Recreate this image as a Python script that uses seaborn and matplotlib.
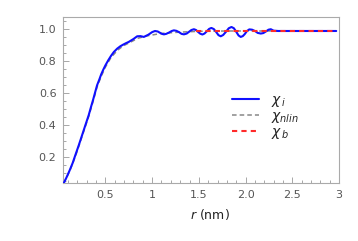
#Importing necessary libraries:
import numpy as np
import pandas as pd
import seaborn as sns
import matplotlib
matplotlib.use("Agg")
import matplotlib.pyplot as plt
from matplotlib.ticker import MultipleLocator

# Values
r_i = [0.053, 0.09, 0.12, 0.15, 0.178, 0.215, 0.25, 0.285, 0.321, 0.345, 0.37, 0.39,
       0.411, 0.435, 0.455, 0.478, 0.5, 0.53, 0.56, 0.59, 0.626, 0.66, 0.69, 0.72,
       0.75, 0.80, 0.84, 0.875, 0.911, 0.96, 1.0, 1.03, 1.06, 1.08, 1.105, 1.126, 1.15,
       1.18, 1.21, 1.233, 1.26, 1.29, 1.315, 1.34, 1.37, 1.395, 1.42, 1.447, 1.47, 1.49,
       1.515, 1.538, 1.56, 1.585, 1.61, 1.634, 1.66, 1.685, 1.71, 1.734, 1.76, 1.79,
       1.82, 1.849, 1.875, 1.90, 1.925, 1.948, 1.97, 1.99, 2.015, 2.04, 2.07, 2.10,
       2.13, 2.163, 2.19, 2.22, 2.245, 2.27, 2.30, 2.35, 2.97]
chi_i = [0.035, 0.08, 0.12, 0.163, 0.211, 0.273, 0.335, 0.397, 0.46, 0.51, 0.56, 0.603,
         0.647, 0.683, 0.715, 0.745, 0.771, 0.802, 0.83, 0.854, 0.875, 0.89, 0.90, 0.909,
         0.917, 0.935, 0.952, 0.953, 0.948, 0.962, 0.978, 0.985, 0.982, 0.975, 0.967, 0.964,
         0.967, 0.975, 0.985, 0.989, 0.986, 0.977, 0.967, 0.964, 0.969, 0.98, 0.991, 0.996,
         0.991, 0.98, 0.968, 0.963, 0.969, 0.983, 0.998, 1.004, 0.997, 0.979, 0.959, 0.952,
         0.96, 0.98, 1.002, 1.01, 1.002, 0.98, 0.957, 0.948, 0.953, 0.965, 0.985, 0.995,
         0.993, 0.985, 0.973, 0.969, 0.972, 0.983, 0.993, 0.996, 0.987, 0.985, 0.985]

r_nlin = [0.053, 0.12, 0.18, 0.25, 0.32, 0.37, 0.41, 0.455, 0.5, 0.56, 0.63, 0.69, 0.75,
          0.85, 0.95, 1.1, 1.3, 1.5, 1.8, 2.3, 2.97]
chi_nlin = [0.035, 0.115, 0.205, 0.328, 0.45, 0.55, 0.635, 0.702, 0.76, 0.82, 0.865,
            0.892, 0.91, 0.94, 0.955, 0.97, 0.978, 0.983, 0.985, 0.985, 0.985]

r_b = [1.47, 2.97]
chi_b = [0.985, 0.985]

xticks = [0.5, 1, 1.5, 2, 2.5, 3]
xtick_labels = ["0.5", "1", "1.5", "2.0", "2.5", "3"]
yticks = [0.2, 0.4, 0.6, 0.8, 1.0]
ytick_labels = ["0.2", "0.4", "0.6", "0.8", "1.0"]

df_i = pd.DataFrame({"r": r_i, "chi": chi_i})
df_nlin = pd.DataFrame({"r": r_nlin, "chi": chi_nlin})
df_b = pd.DataFrame({"r": r_b, "chi": chi_b})

sns.set_style("white")
plt.rcParams['font.family'] = ['DejaVu Sans']

fig = plt.figure(figsize=(3.58, 2.41), dpi=100)
ax = fig.add_axes([0.177, 0.239, 0.770, 0.689])

sns.lineplot(data=df_nlin, x="r", y="chi", ax=ax, color="#888888", lw=1.1,
             linestyle=(0, (3, 2)), label=r"$\chi_{nlin}$", sort=False, zorder=2)
sns.lineplot(data=df_i, x="r", y="chi", ax=ax, color="#1010ff", lw=1.5,
             label=r"$\chi_{\,i}$", sort=False, zorder=3)
sns.lineplot(data=df_b, x="r", y="chi", ax=ax, color="#ff2a2a", lw=1.5,
             linestyle=(0, (2.5, 2)), label=r"$\chi_{\,b}$", sort=False, zorder=4)

ax.set_xlim(0.05, 3.0)
ax.set_ylim(0.035, 1.07)
ax.set_xticks(xticks)
ax.set_xticklabels(xtick_labels)
ax.set_yticks(yticks)
ax.set_yticklabels(ytick_labels)
ax.xaxis.set_minor_locator(MultipleLocator(0.1))
ax.yaxis.set_minor_locator(MultipleLocator(0.05))
ax.tick_params(which="both", direction="in", colors="#999999", labelcolor="#555555",
               labelsize=8, width=0.6, bottom=True, left=True, top=False, right=False)
ax.tick_params(which="major", length=4, pad=5)
ax.tick_params(which="minor", length=2)
for s in ax.spines.values():
    s.set_color("#aaaaaa")
    s.set_linewidth(0.8)

ax.set_xlabel(r"$r$ (nm)", fontsize=9, color="#222222")
ax.xaxis.set_label_coords(0.53, -0.14)
ax.set_ylabel("")

# Legend ordered as in the reference
h, l = ax.get_legend_handles_labels()
order = [1, 0, 2]
ax.legend([h[k] for k in order], [l[k] for k in order], frameon=False, fontsize=10,
          handlelength=2.0, labelspacing=0.0, handletextpad=0.8,
          loc="upper left", bbox_to_anchor=(0.565, 0.62))

fig.savefig("out.png", dpi=100)
